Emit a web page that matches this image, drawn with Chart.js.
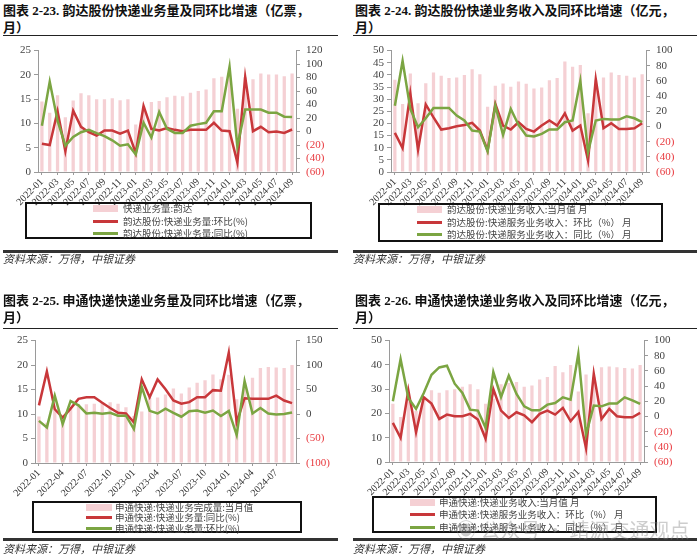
<!DOCTYPE html>
<html>
<head>
<meta charset="utf-8">
<script src="https://cdn.jsdelivr.net/npm/chart.js@4.4.0/dist/chart.umd.min.js"></script>
<style>
body { margin: 0; background: #fff; }
#page { position: relative; width: 700px; height: 558px; overflow: hidden; }
.title { position: absolute; font: bold 13px/17px 'Liberation Serif', 'Noto Sans CJK SC', serif; color: #111; white-space: nowrap; }
.rule { position: absolute; height: 1px; background: #222; }
.thick { position: absolute; height: 3px; background: #333; }
.src { position: absolute; font: italic 11px/14px 'Noto Sans CJK SC', sans-serif; color: #333; white-space: nowrap; }
canvas { position: absolute; }
.legend { position: absolute; border: 2px solid #111; box-sizing: border-box; }
.row { position: absolute; font: 9.5px/12px 'Noto Sans CJK SC', 'Liberation Serif', sans-serif; color: #444; white-space: nowrap; }
.sw { position: absolute; }
.wm { position: absolute; font: 20px/24px 'Noto Sans CJK SC', sans-serif; color: rgba(130,130,130,0.4); white-space: nowrap; }
</style>
</head>
<body>
<div id="page">
  <!-- 图表 2-23 -->
  <div class="title" style="left:3px;top:2px;">图表 2-23. 韵达股份快递业务量及同环比增速（亿票，<br>月）</div>
  <div class="rule" style="left:3px;top:35px;width:335px;"></div>
  <canvas id="c1" width="345" height="170" style="left:0;top:38px;"></canvas>
  <div class="legend" style="left:25px;top:202px;width:287px;height:37px;"></div>
  <div class="sw" style="left:93px;top:205px;width:25px;height:7px;background:#f5d0d4;"></div>
  <div class="row" style="left:123px;top:202px;">快递业务量:韵达</div>
  <div class="sw" style="left:93px;top:220px;width:25px;height:3px;background:#c8373a;"></div>
  <div class="row" style="left:123px;top:215px;">韵达股份:快递业务量:环比(%)</div>
  <div class="sw" style="left:93px;top:232px;width:25px;height:3px;background:#7ba542;"></div>
  <div class="row" style="left:123px;top:227px;">韵达股份:快递业务量:同比(%)</div>
  <div class="thick" style="left:3px;top:250px;width:335px;"></div>
  <div class="src" style="left:3px;top:251px;">资料来源：万得，中银证券</div>

  <!-- 图表 2-24 -->
  <div class="title" style="left:355px;top:2px;">图表 2-24. 韵达股份快递业务收入及同环比增速（亿元，<br>月）</div>
  <div class="rule" style="left:353px;top:35px;width:344px;"></div>
  <canvas id="c2" width="345" height="170" style="left:350px;top:38px;"></canvas>
  <div class="legend" style="left:378px;top:203px;width:285px;height:39px;"></div>
  <div class="sw" style="left:417px;top:206px;width:25px;height:7px;background:#f5d0d4;"></div>
  <div class="row" style="left:447px;top:203px;">韵达股份:快递业务收入:当月值 月</div>
  <div class="sw" style="left:417px;top:221px;width:25px;height:3px;background:#c8373a;"></div>
  <div class="row" style="left:447px;top:216px;">韵达股份:快递服务业务收入：环比（%） 月</div>
  <div class="sw" style="left:417px;top:233px;width:25px;height:3px;background:#7ba542;"></div>
  <div class="row" style="left:447px;top:228px;">韵达股份:快递服务业务收入：同比（%） 月</div>
  <div class="thick" style="left:353px;top:250px;width:344px;"></div>
  <div class="src" style="left:353px;top:251px;">资料来源：万得，中银证券</div>

  <!-- 图表 2-25 -->
  <div class="title" style="left:3px;top:292px;">图表 2-25. 申通快递快递业务量及同环比增速（亿票，<br>月）</div>
  <div class="rule" style="left:3px;top:328px;width:335px;"></div>
  <canvas id="c3" width="345" height="170" style="left:0;top:328px;"></canvas>
  <div class="legend" style="left:32px;top:501px;width:270px;height:32px;"></div>
  <div class="sw" style="left:86px;top:504px;width:26px;height:7px;background:#f5d0d4;"></div>
  <div class="row" style="left:115px;top:501px;">申通快递:快递业务完成量:当月值</div>
  <div class="sw" style="left:86px;top:516px;width:26px;height:3px;background:#c8373a;"></div>
  <div class="row" style="left:115px;top:511px;">申通快递:快递业务量:同比(%)</div>
  <div class="sw" style="left:86px;top:527px;width:26px;height:3px;background:#7ba542;"></div>
  <div class="row" style="left:115px;top:522px;">申通快递:快递业务量:环比(%)</div>
  <div class="thick" style="left:3px;top:538px;width:335px;"></div>
  <div class="src" style="left:3px;top:541px;">资料来源：万得，中银证券</div>

  <!-- 图表 2-26 -->
  <div class="title" style="left:355px;top:292px;">图表 2-26. 申通快递快递业务收入及同环比增速（亿元，<br>月）</div>
  <div class="rule" style="left:353px;top:328px;width:344px;"></div>
  <canvas id="c4" width="345" height="170" style="left:350px;top:328px;"></canvas>
  <div class="legend" style="left:372px;top:496px;width:285px;height:37px;"></div>
  <div class="sw" style="left:410px;top:499px;width:25px;height:7px;background:#f5d0d4;"></div>
  <div class="row" style="left:439px;top:496px;">申通快递:快递业务收入:当月值 月</div>
  <div class="sw" style="left:410px;top:513px;width:25px;height:3px;background:#c8373a;"></div>
  <div class="row" style="left:439px;top:508px;">申通快递:快递服务业务收入：环比（%） 月</div>
  <div class="sw" style="left:410px;top:526px;width:25px;height:3px;background:#7ba542;"></div>
  <div class="row" style="left:439px;top:521px;">申通快递:快递服务业务收入：同比（%） 月</div>
  <div class="thick" style="left:353px;top:538px;width:344px;"></div>
  <div class="src" style="left:353px;top:541px;">资料来源：万得，中银证券</div>

  <div class="wm" style="left:456px;top:518px;">◉ 公众号 · 靖源交通观点</div>
</div>

<script>
// months on the x axis
var months = ['2022-01','2022-02','2022-03','2022-04','2022-05','2022-06','2022-07','2022-08','2022-09','2022-10','2022-11','2022-12',
              '2023-01','2023-02','2023-03','2023-04','2023-05','2023-06','2023-07','2023-08','2023-09','2023-10','2023-11','2023-12',
              '2024-01','2024-02','2024-03','2024-04','2024-05','2024-06','2024-07','2024-08','2024-09'];

// 韵达 快递业务量 (亿票) and growth (%)
var ydVolume    = [14.5, 12.2, 15.8, 11.3, 14.7, 16.2, 15.8, 15.0, 15.0, 15.2, 14.8, 15.0,
                   9.8, 13.5, 14.4, 14.6, 15.4, 15.7, 15.6, 16.3, 16.7, 17.0, 19.3, 19.6,
                   19.8, 13.0, 19.5, 19.1, 20.3, 20.1, 20.1, 19.7, 20.3];
var ydVolumeMoM = [-18, -20, 30, -29, 31, 7, -1, -6, 1.5, 1.5, -3, 1.5,
                   -32, 38, 4, 1.5, 5, 2.5, 0.5, 2.5, 2.5, 2.5, 13, 1.5,
                   0.5, -46, 81, 0.5, 7, -1, 0, -2, 3];
var ydVolumeYoY = [8.6, 74, 16, -21, -8, -1, 2.4, -2.4, -6.7, -13, -21, -19,
                   -34, 13, -9, 29, 4, -2, -2, 8.6, 11, 13, 30, 30,
                   96, -22, 32.5, 32.5, 32.5, 28, 28, 22, 21.5];

// 韵达 快递业务收入 (亿元) and growth (%)
var ydRevenue    = [38, 28, 40.6, 28.3, 36.6, 41, 39.6, 38.7, 38.9, 39.9, 42.3, 40.3,
                    26.9, 35.5, 36.5, 35.1, 37.3, 36.3, 34.4, 34.8, 37.8, 38.7, 45.5, 43.3,
                    44.1, 24.2, 38, 38.9, 41, 40, 39.6, 38.9, 40.3];
var ydRevenueMoM = [-8.4, -28.5, 43.6, -30.7, 29, 12, -4, -2.3, 0.3, 2, 4.7, -5.4,
                    -31.6, 29.6, 1.2, -4, 5.6, -3.2, -6.7, 1.2, 7.8, 1.2, 17.4, -5.4,
                    1.2, -44.7, 62.4, -2.3, 4.3, -3.2, -3.2, -2.3, 4.3];
var ydRevenueYoY = [27.4, 86.4, 23, -1, 10.8, 24.4, 24.4, 24.4, 14.3, 7.8, -5.4, -6.7,
                    -32.9, 27.4, -11, 23, 2, -12, -13.2, -9.7, -4, -4, 5.6, 7.8,
                    60.2, -33.8, 7.8, 10, 9.1, 9.1, 13.4, 10.8, 5.6];

// 申通 快递业务完成量 (亿票) and growth (%)
var stVolume    = [9.5, 8.2, 11.2, 9.5, 11.0, 12.0, 12.0, 12.1, 12.3, 12.4, 12.1, 11.4,
                   9.6, 10.5, 13.4, 13.4, 14.0, 15.2, 14.2, 15.4, 16.4, 16.9, 18.1, 17.1,
                   18.0, 13.0, 16.4, 17.4, 19.4, 19.6, 19.5, 19.4, 20.0];
var stVolumeYoY = [17.7, 87, 9.8, -7.4, 11.1, 31, 34.3, 34.3, 23, 12.4, 2.5, 1.2,
                   -16.7, 70.6, 34.3, 70.6, 50.8, 27.6, 21, 24.3, 34.3, 34.3, 48.8, 47.5,
                   125.5, -16.7, 32.3, 31, 31, 31, 37.6, 27.6, 22.4];
var stVolumeMoM = [-14, -27.3, 37.6, -20.6, 26.3, 17.7, 1.2, 2.5, 0.5, 2.5, -3.4, -3.4,
                   -30.6, 55.4, 6.5, 1.2, 11.1, 2.5, -5.4, 5.8, 7.1, 2.5, 7.1, -4,
                   6.5, -43, 67.3, 1.2, 12.4, 1.2, -0.8, -0.1, 3.2];

// 申通 快递业务收入 (亿元) and growth (%)
var stRevenue    = [24, 18.5, 27, 21, 27, 29.5, 28.5, 29.5, 30, 31, 32, 30,
                    24, 26, 32, 32.5, 33, 31, 31.5, 34, 35, 39.5, 37, 40,
                    29, 36, 35, 39, 39.3, 39, 38.7, 38.5, 40];
var stRevenueMoM = [-8.4, -28, 34.4, -20.7, 25.2, 17, -3.2, 2.5, 0.3, 0.3, 3.4, -4,
                    -29.4, 36.2, 7.8, -1.9, 5.6, 1.6, -7.5, 3.4, 7.8, 2.5, 11.3, -6.2,
                    6, -42, 56.3, -3.2, 10, 0.3, -1, -1, 4.7];
var stRevenueYoY = [20, 75.5, 24.4, 10, 31, 55, 64.6, 66.8, 43.2, 31, 9, 7.8,
                    -15, 58.5, 25.7, 53.7, 29.6, 13.4, 8.2, 8.2, 15.6, 17.8, 25.2, 22.2,
                    82.5, -23.8, 14.3, 13.4, 17, 17, 25.2, 21.3, 16.5];

var PINK = '#f5d0d4';
var RED = '#c8373a';
var GREEN = '#7ba542';
var AXIS = '#9a9a9a';

function buildChart(id, o) {
    var ctx = document.getElementById(id).getContext('2d');
    return new Chart(ctx, {
        type: 'bar',
        data: {
            labels: months,
            datasets: [
                { type: 'line', data: o.green, borderColor: GREEN, borderWidth: 2.5, pointRadius: 0, tension: 0, yAxisID: 'y1', order: 1 },
                { type: 'line', data: o.red, borderColor: RED, borderWidth: 2.5, pointRadius: 0, tension: 0, yAxisID: 'y1', order: 2 },
                { type: 'bar', data: o.bars, backgroundColor: PINK, barPercentage: 0.42, categoryPercentage: 1, yAxisID: 'y', order: 3 }
            ]
        },
        options: {
            responsive: false,
            animation: false,
            devicePixelRatio: 1,
            layout: { padding: { top: o.padTop, left: 0, right: 0, bottom: 0 } },
            plugins: { legend: { display: false }, tooltip: { enabled: false } },
            scales: {
                x: {
                    grid: { drawOnChartArea: false, offset: false, tickLength: 3, color: AXIS },
                    border: { color: AXIS },
                    ticks: {
                        autoSkip: false, minRotation: 45, maxRotation: 45, padding: 1,
                        font: { family: 'Liberation Serif', size: 10 }, color: '#333',
                        callback: function (v, i) { return i % o.every === 0 ? months[i] : null; }
                    },
                    afterFit: function (s) { s.height = o.xH; }
                },
                y: {
                    position: 'left', min: o.yMin, max: o.yMax,
                    grid: { drawOnChartArea: false, tickLength: 4, color: AXIS },
                    border: { color: AXIS },
                    ticks: { stepSize: o.yStep, autoSkip: false, padding: 3, font: { family: 'Liberation Serif', size: 11 }, color: '#444' },
                    afterFit: function (s) { s.width = o.leftW; }
                },
                y1: {
                    position: 'right', min: o.rMin, max: o.rMax,
                    grid: { drawOnChartArea: false, tickLength: 4, color: AXIS },
                    border: { color: AXIS },
                    ticks: {
                        stepSize: o.rStep, autoSkip: false, padding: 6, font: { family: 'Liberation Serif', size: 11 },
                        color: function (c) { return c.tick && c.tick.value < 0 ? '#e8383d' : '#444'; },
                        callback: function (v) { return v < 0 ? '(' + (-v) + ')' : v; }
                    },
                    afterFit: function (s) { s.width = o.rightW; }
                }
            }
        }
    });
}

buildChart('c1', { bars: ydVolume, red: ydVolumeMoM, green: ydVolumeYoY, every: 2,
    yMin: 0, yMax: 25, yStep: 5, rMin: -60, rMax: 120, rStep: 20,
    padTop: 9, xH: 36, leftW: 38, rightW: 49 });
buildChart('c2', { bars: ydRevenue, red: ydRevenueMoM, green: ydRevenueYoY, every: 2,
    yMin: 0, yMax: 50, yStep: 5, rMin: -60, rMax: 100, rStep: 20,
    padTop: 12, xH: 36, leftW: 41, rightW: 49 });
buildChart('c3', { bars: stVolume, red: stVolumeYoY, green: stVolumeMoM, every: 3,
    yMin: 0, yMax: 25, yStep: 5, rMin: -100, rMax: 150, rStep: 50,
    padTop: 9, xH: 35, leftW: 35, rightW: 49 });
buildChart('c4', { bars: stRevenue, red: stRevenueMoM, green: stRevenueYoY, every: 2,
    yMin: 0, yMax: 50, yStep: 10, rMin: -60, rMax: 100, rStep: 20,
    padTop: 12, xH: 36, leftW: 39, rightW: 51 });
</script>
</body>
</html>
